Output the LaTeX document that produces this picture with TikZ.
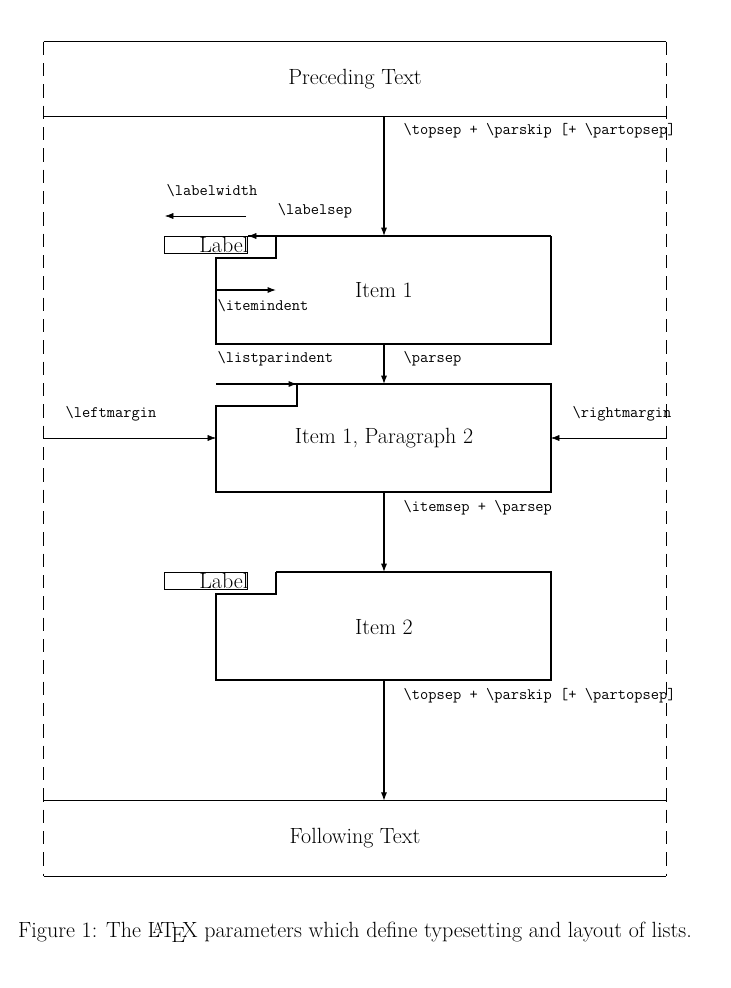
\documentclass[tikz,border=0pt]{standalone}
\usetikzlibrary{arrows.meta,positioning}
\tikzset{
  param/.style={font=\fontsize{12}{14}\ttfamily},
  txt/.style={font=\fontsize{16.5}{19}\selectfont},
  arrow/.style={-{Latex[length=2.2mm,width=1.6mm]}},
  frame/.style={thick},
  lbl/.style={draw,inner sep=0pt,minimum width=83\unitlength,minimum height=17\unitlength}
}
\setlength{\unitlength}{0.75pt}
\begin{document}
\begin{tikzpicture}[x=0.75pt,y=-0.75pt,every node/.style={txt}]
  \useasboundingbox (0,0) rectangle (731,988);
  % Text blocks
  \node[minimum width=622\unitlength,minimum height=74\unitlength] (prev) at (355,79) {Preceding Text};
  \node[minimum width=622\unitlength,minimum height=75\unitlength] (next) at (355,838.5) {Following Text};
  \draw[frame] (prev.north west) -- (prev.north east) (prev.south west) -- (prev.south east);
  \draw[frame] (next.north west) -- (next.north east) (next.south west) -- (next.south east);
  \draw[dash pattern=on 10pt off 6pt] (prev.north west) -- (next.south west);
  \draw[dash pattern=on 10pt off 6pt] (prev.north east) -- (next.south east);

  % Items
  \node (item1) at (384,290) {Item 1};
  \node (item1b) at (384,438) {Item 1, Paragraph 2};
  \node (item2) at (384,627) {Item 2};
  \node[lbl] (lab1) at (205.5,244.5) {\makebox[83\unitlength][r]{Label\hspace{-1pt}}};
  \node[lbl] (lab2) at (205.5,580.5) {\makebox[83\unitlength][r]{Label\hspace{-1pt}}};

  \draw[frame] (248,236) -- (551,236) (276,236) |- (216,258) -- (216,344) -- (551,344) -- (551,236);
  \draw[frame] (216,384) -- (551,384) -- (551,492) -- (216,492) -- (216,406) -| (297,384);
  \draw[frame] (276,572) -- (551,572) -- (551,680) -- (216,680) -- (216,594) -| (276,572);

  % Vertical spacing
  \draw[arrow,thick] (prev.south -| item1) -- (384,236) node[param,pos=0.12,anchor=west,xshift=11pt] {\textbackslash topsep + \textbackslash parskip [+ \textbackslash partopsep]};
  \draw[arrow,thick] (384,344) -- (384,384) node[param,pos=0.38,anchor=west,xshift=11pt] {\textbackslash parsep};
  \draw[arrow,thick] (384,492) -- (384,572) node[param,pos=0.2,anchor=west,xshift=11pt] {\textbackslash itemsep + \textbackslash parsep};
  \draw[arrow,thick] (384,680) -- (next.north -| item2) node[param,pos=0.13,anchor=west,xshift=11pt] {\textbackslash topsep + \textbackslash parskip [+ \textbackslash partopsep]};

  % Horizontal spacing
  \draw[arrow] (246,216) -- (165,216);
  \node[param] (lw) at (212,191) {\textbackslash labelwidth};
  \draw[arrow] (276,236) -- (248,236);
  \node[param] (ls) at (315,211) {\textbackslash labelsep};
  \draw[arrow,thick] (216,290) -- (276,290);
  \node[param,anchor=west] (ii) at (213,306) {\textbackslash itemindent};
  \draw[arrow,thick] (216,384) -- (297,384);
  \node[param,anchor=west] (lpi) at (213,359) {\textbackslash listparindent};
  \draw[arrow] (prev.south west |- item1b) -- (216,438);
  \node[param] (lm) at (111,414) {\textbackslash leftmargin};
  \draw[arrow] (prev.south east |- item1b) -- (551,438);
  \node[param] (rm) at (622,414) {\textbackslash rightmargin};

  % Caption
  \node (cap) at (355,932) {Figure 1: The \LaTeX\ parameters which define typesetting and layout of lists.};
\end{tikzpicture}
\end{document}
